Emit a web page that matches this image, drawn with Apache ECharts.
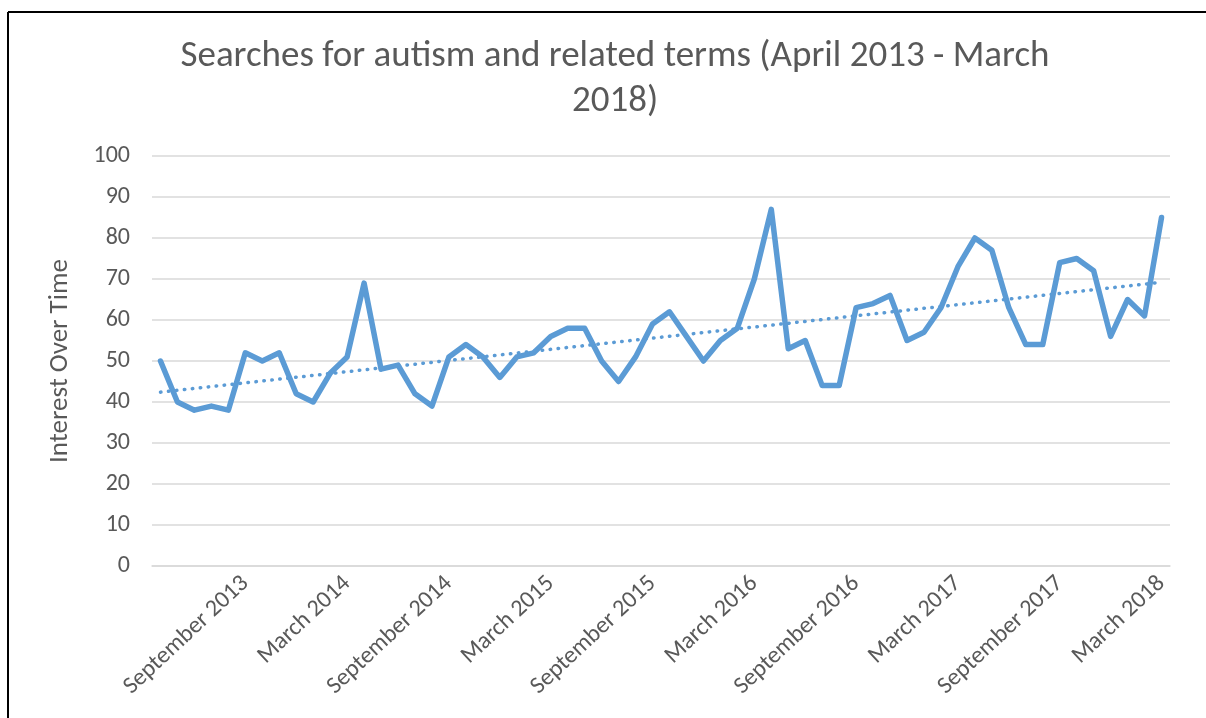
<!DOCTYPE html>
<html>
<head>
<meta charset="utf-8">
<script src="https://cdn.jsdelivr.net/npm/echarts@6/dist/echarts.min.js"></script>
<style>
  html, body { margin: 0; padding: 0; background: #fff; }
  #chart { width: 1206px; height: 718px; }
</style>
</head>
<body>
<div id="chart"></div>
<script>
// months, April 2013 - March 2018
const months = [
  "April 2013", "May 2013", "June 2013", "July 2013", "August 2013", "September 2013",
  "October 2013", "November 2013", "December 2013", "January 2014", "February 2014", "March 2014",
  "April 2014", "May 2014", "June 2014", "July 2014", "August 2014", "September 2014",
  "October 2014", "November 2014", "December 2014", "January 2015", "February 2015", "March 2015",
  "April 2015", "May 2015", "June 2015", "July 2015", "August 2015", "September 2015",
  "October 2015", "November 2015", "December 2015", "January 2016", "February 2016", "March 2016",
  "April 2016", "May 2016", "June 2016", "July 2016", "August 2016", "September 2016",
  "October 2016", "November 2016", "December 2016", "January 2017", "February 2017", "March 2017",
  "April 2017", "May 2017", "June 2017", "July 2017", "August 2017", "September 2017",
  "October 2017", "November 2017", "December 2017", "January 2018", "February 2018", "March 2018"
];

// interest over time
const interest = [
  50, 40, 38, 39, 38, 52, 50, 52, 42, 40, 47, 51,
  69, 48, 49, 42, 39, 51, 54, 51, 46, 51, 52, 56,
  58, 58, 50, 45, 51, 59, 62, 56, 50, 55, 58, 70,
  87, 53, 55, 44, 44, 63, 64, 66, 55, 57, 63, 73,
  80, 77, 63, 54, 54, 74, 75, 72, 56, 65, 61, 85
];

// linear trendline, read at first and last month
const trendStart = 42.4;
const trendEnd = 69.2;

const textColor = "#595959";
const font = "Carlito, Lato, sans-serif";

const option = {
  animation: false,
  title: {
    text: "Searches for autism and related terms (April 2013 - March\n2018)",
    left: 610,
    textAlign: "center",
    top: 29,
    textStyle: {
      fontFamily: font,
      fontSize: 37,
      fontWeight: "normal",
      color: textColor,
      lineHeight: 45,
    },
  },
  // chart frame: only top and left edges fall inside the picture
  graphic: [
    {
      type: "line",
      shape: { x1: 8, y1: 12, x2: 1210, y2: 12 },
      style: { stroke: "#000", lineWidth: 2 },
      silent: true,
    },
    {
      type: "line",
      shape: { x1: 8, y1: 12, x2: 8, y2: 720 },
      style: { stroke: "#000", lineWidth: 2 },
      silent: true,
    },
  ],
  grid: { left: 152, right: 36, top: 156, bottom: 152 },
  xAxis: {
    type: "category",
    boundaryGap: true,
    data: months,
    axisLine: { lineStyle: { color: "#d9d9d9", width: 1.5 } },
    axisTick: { show: false },
    axisLabel: {
      interval: (idx) => idx % 6 === 5,
      rotate: 43,
      margin: 14,
      fontFamily: font,
      fontSize: 24,
      color: textColor,
    },
  },
  yAxis: {
    type: "value",
    min: 0,
    max: 100,
    interval: 10,
    name: "Interest Over Time",
    nameLocation: "middle",
    nameGap: 78,
    nameTextStyle: { fontFamily: font, fontSize: 27, color: textColor },
    axisLine: { show: false },
    axisTick: { show: false },
    axisLabel: { margin: 22, fontFamily: font, fontSize: 24, color: textColor },
    splitLine: { lineStyle: { color: "#d9d9d9", width: 1.5 } },
  },
  series: [
    {
      name: "Interest",
      type: "line",
      data: interest,
      symbol: "none",
      lineStyle: { color: "#5b9bd5", width: 5.5, join: "round", cap: "round" },
      z: 3,
    },
    {
      name: "Trend",
      type: "line",
      data: [
        [0, trendStart],
        [months.length - 1, trendEnd],
      ],
      symbol: "none",
      lineStyle: { color: "#5b9bd5", width: 3.5, type: [0.5, 7.5], cap: "round" },
      z: 2,
    },
  ],
};

const myChart = echarts.init(document.getElementById("chart"));
myChart.setOption(option);
</script>
</body>
</html>
